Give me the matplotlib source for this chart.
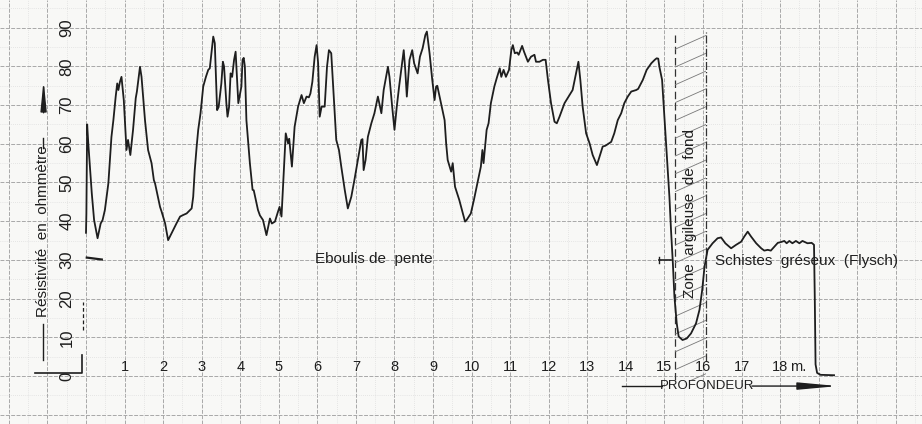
import numpy as np
import matplotlib
matplotlib.use("Agg")
import matplotlib.pyplot as plt
from matplotlib.patches import Rectangle

# resistivity log: depth (m) / resistivity (ohm.m)
depth = [0.00, 0.01, 0.03, 0.06, 0.15, 0.21, 0.30, 0.38, 0.43, 0.49, 0.58, 0.66, 0.71, 0.77,
         0.81, 0.84, 0.88, 0.92, 0.98, 1.05, 1.09, 1.15, 1.22, 1.29, 1.32, 1.40, 1.44, 1.53,
         1.61, 1.70, 1.76, 1.79, 1.92, 1.96, 2.05, 2.13, 2.22, 2.35, 2.44, 2.52, 2.61, 2.74,
         2.78, 2.82, 2.87, 2.91, 2.97, 3.04, 3.11, 3.17, 3.21, 3.26, 3.30, 3.34, 3.40, 3.44,
         3.51, 3.55, 3.58, 3.64, 3.67, 3.71, 3.75, 3.79, 3.84, 3.88, 3.95, 3.99, 4.03, 4.06,
         4.09, 4.12, 4.16, 4.25, 4.32, 4.35, 4.46, 4.51, 4.59, 4.68, 4.77, 4.82, 4.90, 4.98,
         5.02, 5.07, 5.13, 5.18, 5.24, 5.27, 5.34, 5.41, 5.50, 5.59, 5.65, 5.72, 5.78, 5.82,
         5.87, 5.93, 5.98, 6.02, 6.06, 6.11, 6.19, 6.25, 6.30, 6.36, 6.41, 6.49, 6.56, 6.62,
         6.71, 6.79, 6.88, 6.96, 7.05, 7.14, 7.17, 7.20, 7.25, 7.31, 7.40, 7.48, 7.57, 7.66,
         7.72, 7.79, 7.83, 7.87, 7.94, 8.00, 8.06, 8.12, 8.18, 8.24, 8.28, 8.32, 8.39, 8.46,
         8.51, 8.60, 8.66, 8.73, 8.80, 8.84, 8.91, 8.98, 9.04, 9.08, 9.11, 9.19, 9.30, 9.34,
         9.38, 9.47, 9.51, 9.57, 9.68, 9.76, 9.83, 9.87, 9.98, 10.06, 10.15, 10.24, 10.28,
         10.31, 10.39, 10.44, 10.50, 10.59, 10.65, 10.73, 10.77, 10.83, 10.89, 10.97, 11.03,
         11.07, 11.12, 11.18, 11.22, 11.31, 11.36, 11.46, 11.54, 11.63, 11.67, 11.76, 11.85,
         11.92, 11.98, 12.06, 12.15, 12.21, 12.28, 12.41, 12.54, 12.62, 12.71, 12.77, 12.82,
         12.88, 12.97, 13.06, 13.14, 13.25, 13.33, 13.40, 13.47, 13.62, 13.70, 13.79, 13.88,
         13.96, 14.05, 14.14, 14.27, 14.32, 14.44, 14.54, 14.66, 14.75, 14.80, 14.84, 14.87,
         14.94, 15.00, 15.06, 15.13, 15.17, 15.22, 15.26, 15.32, 15.37, 15.47, 15.58, 15.69,
         15.82, 15.91, 15.98, 16.04, 16.12, 16.25, 16.38, 16.47, 16.58, 16.73, 16.86, 16.99,
         17.07, 17.16, 17.25, 17.38, 17.51, 17.59, 17.68, 17.76, 17.85, 17.94, 18.02, 18.11,
         18.17, 18.24, 18.32, 18.41, 18.50, 18.58, 18.71, 18.82, 18.88, 18.90, 18.92, 18.96,
         19.05, 19.40]
resistivity = [37, 42, 65, 60, 47.2, 40.3, 35.6, 39.4, 40.3, 42.9, 49.8, 61.8, 66.1, 72.2,
               75.6, 73.9, 76, 77.3, 71.3, 58.4, 61, 57.1, 63.6, 71.8, 73.5, 79.9, 77.3, 66.1,
               58.4, 55, 50.6, 49.8, 43.7, 42.5, 39.5, 35.1, 36.9, 39.5, 41.2, 41.6, 42, 43.3,
               46.3, 53.2, 59.3, 63.6, 67.9, 74.8, 77.3, 79.1, 79.5, 84.2, 87.7, 86, 68.7, 69.5,
               75.6, 81.2, 80, 70.5, 67, 69.5, 78.2, 77.3, 81.7, 83.8, 70.5, 72.6, 74.8, 81.7,
               82.2, 80, 66.1, 55, 48.1, 48, 42.9, 41.5, 40.3, 36.4, 40.7, 39.4, 39.9, 42.5,
               43.7, 41.2, 53.2, 62.7, 60.1, 61.3, 54.1, 64.4, 69.6, 72.6, 70.5, 72.2, 72, 73,
               76, 82.5, 85.5, 80.8, 67, 69.6, 69.6, 79.9, 84.2, 83.4, 74.8, 61, 58.4, 54.1,
               48.1, 43.3, 46.3, 50.6, 55.8, 61, 61.2, 53.2, 55.8, 61.8, 65.3, 67.9, 72.2, 67.9,
               73.9, 77.8, 79.9, 77.3, 69.6, 63.6, 69.6, 74.8, 79.5, 84.2, 79, 72.2, 81.7, 84.2,
               80.8, 78.2, 82.5, 84.7, 88.1, 89, 83.4, 76.5, 71.3, 74.8, 75, 71.3, 66.1, 60.1,
               55.8, 52.8, 55, 48.9, 45.5, 42.5, 39.9, 40.3, 42, 45.5, 49.8, 54.1, 58.4,
               55, 63.6, 65.3, 70.5, 74.8, 76.9, 79.5, 77.3, 79.1, 77.3, 79.1, 84.2,
               85.5, 83.4, 83.6, 83, 85.3, 83.8, 81.2, 82.5, 83, 81.2, 81.2, 81.7,
               81.7, 76.5, 70.5, 65.7, 65.3, 67, 70.5, 72.6, 73.9, 78.2, 81.2, 76.5,
               69.6, 62.7, 60.1, 57.1, 54.5, 57.1, 59.3, 59.5, 60.5, 62.7, 66.1, 67.9,
               70.5, 72.2, 73.5, 73.9, 74.2, 76.5, 79.1, 80.8, 81.7, 82.1, 82, 79.9,
               76.5, 67, 57.5, 46.3, 38, 29, 20.5, 13.6, 10.2, 9.3, 9.7, 11,
               13.6, 17.1, 22.2, 28.2, 32.6, 34.3, 35.6, 35.8, 34.3, 33, 33.9, 34.7,
               36, 37.3, 36, 34.3, 33, 32.4, 32.6, 32.4, 33.4, 34.4, 34.6, 34.9,
               34.3, 34.9, 34.3, 34.9, 34.3, 34.9, 34.3, 34.4, 33.9, 20, 3, 0.8,
               0.3, 0.2]

depth_ticks = list(range(1, 19))
res_ticks = list(range(0, 100, 10))

# clay zone at the bottom of the scree
zone_left = 15.27
zone_right = 16.08
zone_top = 89

plt.rcParams['font.family'] = ['Liberation Sans', 'DejaVu Sans']
ink = '#1e1e1e'
paper = '#f8f8f6'

# paper scale: pixels per metre / per ohm.m
sx = 38.56
sy = 3.87

fig = plt.figure(figsize=(9.22, 4.24), dpi=100)
fig.patch.set_facecolor(paper)
ax = fig.add_axes([0, 0, 1, 1])
ax.set_facecolor(paper)

# graph paper
ax.set_xticks(np.arange(-2, 22, 1))
ax.set_xticks(np.arange(-2.5, 22, 0.5), minor=True)
ax.set_yticks(np.arange(-10, 100, 10))
ax.set_yticks(np.arange(-15, 100, 5), minor=True)
ax.grid(True, which='major', color='#a8a8a8', lw=0.7, ls=(0, (4, 1.5)))
ax.grid(True, which='minor', color='#d4d4d4', lw=0.5, ls=(0, (1, 2)))
ax.tick_params(which='both', length=0, labelbottom=False, labelleft=False)
for s in ax.spines.values():
    s.set_visible(False)
ax.set_axisbelow(True)
# limits after the ticks, so the paper scale is not stretched
ax.set_xlim(-86 / sx, (922 - 86) / sx)
ax.set_ylim((376 - 424) / sy, 376 / sy)

# the log itself
ax.plot(depth, resistivity, color=ink, lw=1.3, zorder=5)

# hatched clay zone
ax.plot([zone_left, zone_left], [-1, zone_top], color='#333333', lw=0.9, ls=(0, (6, 3)))
ax.plot([zone_right, zone_right], [4, zone_top], color='#333333', lw=0.9, ls='-.')
clip = Rectangle((zone_left, -1), zone_right - zone_left, zone_top + 1, transform=ax.transData)
for y0 in np.arange(-3, zone_top, 4.6):
    ln, = ax.plot([zone_left, zone_right], [y0, y0 + 3.6], color='#777777', lw=0.6)
    ln.set_clip_path(clip)
ax.text((zone_left + zone_right) / 2, 42, 'Zone  argileuse  de  fond', rotation=90,
        ha='center', va='center', fontsize=11, color=ink)

# formation names
ax.text(5.94, 30.2, 'Eboulis de  pente', ha='left', va='center', fontsize=11, color=ink)
ax.text(16.31, 29.6, 'Schistes  gréseux  (Flysch)', ha='left', va='center',
        fontsize=11, color=ink)

# depth scale
for d in depth_ticks:
    ax.text(d, 2.3, str(d), ha='center', va='center', fontsize=10.5, color=ink)
ax.text(18.25, 2.3, 'm.', ha='left', va='center', fontsize=10.5, color=ink)

# resistivity scale
for v in res_ticks:
    ax.text(-0.49, v, str(v), rotation=90, ha='center', va='center', fontsize=12, color=ink)
ax.text(-1.12, 37.5, 'Résistivité  en  ohmmètre', rotation=90, ha='center', va='center',
        fontsize=11, color=ink)
ax.plot([-1.12, -1.12], [4.2, 13.5], color=ink, lw=1)
ax.plot([-1.12, -1.12], [59, 61.5], color=ink, lw=1)
ax.annotate('', xy=(-1.1, 76.5), xytext=(-1.1, 68),
            arrowprops=dict(arrowstyle='-|>,head_length=1.8,head_width=0.18', color=ink,
                            lw=1, shrinkA=0, shrinkB=0))

# corner and reference marks
ax.plot([-1.32, -0.1, -0.1], [0.8, 0.8, 5.4], color=ink, lw=1.2)
ax.plot([-0.08, -0.08], [12, 19], color=ink, lw=0.9, ls=(0, (3, 2)))
ax.plot([0.02, 0.41], [30.6, 30.1], color=ink, lw=1.6)
ax.plot([14.87, 15.17], [30, 30], color=ink, lw=1.2)
ax.plot([14.87, 14.87], [29.2, 30.8], color=ink, lw=1)

# depth arrow
ax.text(16.1, -2.6, 'PROFONDEUR', ha='center', va='center', fontsize=9.5, color=ink)
ax.plot([13.9, 14.95], [-2.6, -2.6], color=ink, lw=1)
ax.annotate('', xy=(19.5, -2.6), xytext=(17.27, -2.6),
            arrowprops=dict(arrowstyle='-|>,head_length=2.4,head_width=0.22',
                            color=ink, lw=1, shrinkA=0, shrinkB=0))

fig.savefig('out.png', dpi=100, facecolor=paper)
